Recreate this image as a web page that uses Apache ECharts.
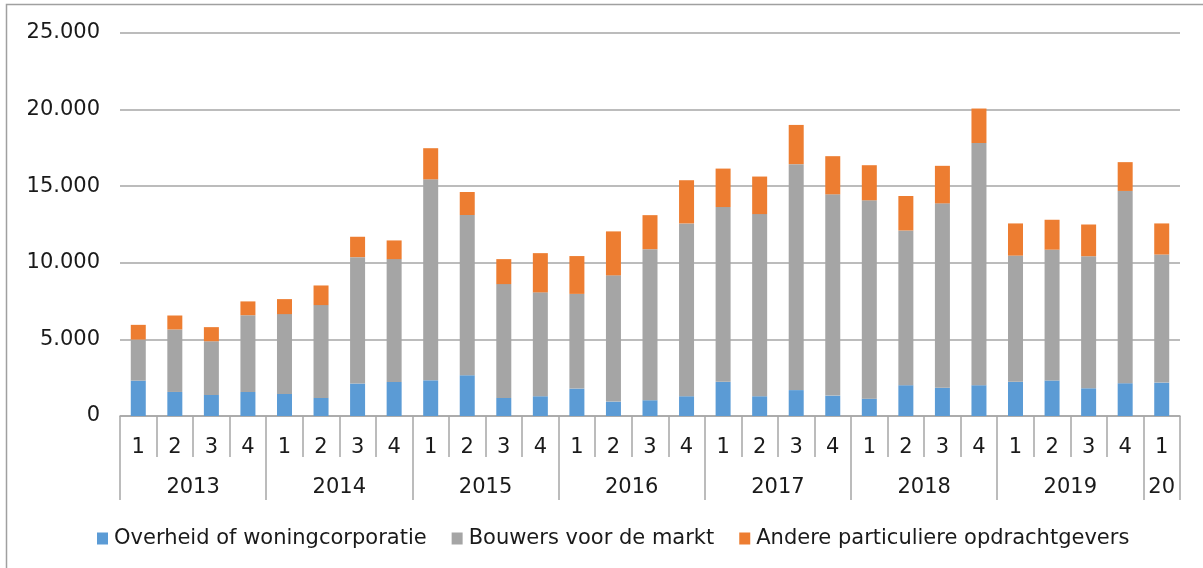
<!DOCTYPE html>
<html>
<head>
<meta charset="utf-8">
<script src="https://cdn.jsdelivr.net/npm/echarts@6/dist/echarts.min.js"></script>
<style>
  html, body { margin: 0; padding: 0; background: #fff; }
  #chart { width: 1203px; height: 568px; }
</style>
</head>
<body>
<div id="chart"></div>
<script>
// quarters 2013 Q1 .. 2020 Q1
const quarters = ["1","2","3","4","1","2","3","4","1","2","3","4","1","2","3","4",
  "1","2","3","4","1","2","3","4","1","2","3","4","1"];
const years = ["2013", "2014", "2015", "2016", "2017", "2018", "2019", "20"];
const yearCenters = [2, 6, 10, 14, 18, 22, 26, 28.5];
const yearBounds = [0, 4, 8, 12, 16, 20, 24, 28, 29];

const overheid = [2310, 1570, 1370, 1570, 1440, 1180, 2120, 2220, 2330, 2660, 1180, 1290,
  1790, 940, 1030, 1290, 2230, 1290, 1690, 1330, 1130, 2010, 1840, 2010, 2230, 2320, 1810, 2140, 2180];
const bouwers = [2680, 4080, 3510, 5010, 5210, 6060, 8250, 8020, 13120, 10460, 7430, 6780,
  6180, 8240, 9860, 11280, 11410, 11890, 14750, 13140, 12950, 10100, 12040, 15810, 8240, 8540, 8620, 12550, 8360];
const andere = [960, 910, 920, 900, 980, 1280, 1330, 1220, 2030, 1500, 1630, 2560,
  2470, 2870, 2220, 2820, 2510, 2450, 2560, 2490, 2290, 2250, 2450, 2250, 2100, 1950, 2070, 1880, 2030];

const seriesNames = ["Overheid of woningcorporatie", "Bouwers voor de markt", "Andere particuliere opdrachtgevers"];

const font = "DejaVu Sans";
const fontSize = 21;
const textColor = "#1a1a1a";
const gridColor = "#a6a6a6";

function dots(v) {
  return String(v).replace(/\B(?=(\d{3})+(?!\d))/g, ".");
}

const chart = echarts.init(document.getElementById("chart"));

function bar(name, data, color) {
  return {
    name: name,
    type: "bar",
    stack: "total",
    barWidth: 15,
    data: data,
    itemStyle: { color: color },
    emphasis: { disabled: true },
  };
}

chart.setOption({
  animation: false,
  color: ["#5b9bd5", "#a5a5a5", "#ed7d31"],
  grid: { left: 120, right: 23, top: 33, bottom: 152 },
  graphic: [
    {
      type: "rect",
      shape: { x: 6.5, y: 4.5, width: 1220, height: 600 },
      style: { fill: "none", stroke: "#a0a0a0", lineWidth: 1.5 },
      silent: true,
    },
  ],
  legend: {
    left: 92,
    top: 523,
    itemWidth: 11,
    itemHeight: 12,
    itemGap: 25,
    icon: "rect",
    data: seriesNames,
    textStyle: { fontFamily: font, fontSize: fontSize, color: textColor, padding: [0, 0, 0, 1] },
  },
  xAxis: [
    {
      type: "category",
      position: "bottom",
      data: quarters,
      axisLine: { lineStyle: { color: gridColor, width: 1.5 } },
      axisTick: { show: true, interval: 0, length: 41, lineStyle: { color: gridColor, width: 1.5 } },
      axisLabel: { interval: 0, margin: 21, fontFamily: font, fontSize: fontSize, color: textColor },
    },
    {
      type: "value",
      position: "bottom",
      offset: 0,
      min: 0,
      max: 29,
      splitLine: { show: false },
      axisLine: { show: false },
      axisTick: {
        show: true,
        customValues: yearBounds,
        length: 84,
        lineStyle: { color: gridColor, width: 1.5 },
      },
      axisLabel: {
        customValues: yearCenters,
        margin: 61,
        fontFamily: font,
        fontSize: fontSize,
        color: textColor,
        formatter: function (v) {
          const i = yearCenters.indexOf(v);
          return i >= 0 ? years[i] : "";
        },
      },
    },
  ],
  yAxis: {
    type: "value",
    min: 0,
    max: 25000,
    interval: 5000,
    axisLine: { show: false },
    axisTick: { show: false },
    splitLine: { lineStyle: { color: gridColor, width: 1.5 } },
    axisLabel: {
      margin: 20,
      fontFamily: font,
      fontSize: fontSize,
      color: textColor,
      formatter: dots,
    },
  },
  series: [
    bar(seriesNames[0], overheid, "#5b9bd5"),
    bar(seriesNames[1], bouwers, "#a5a5a5"),
    bar(seriesNames[2], andere, "#ed7d31"),
  ],
});
</script>
</body>
</html>
